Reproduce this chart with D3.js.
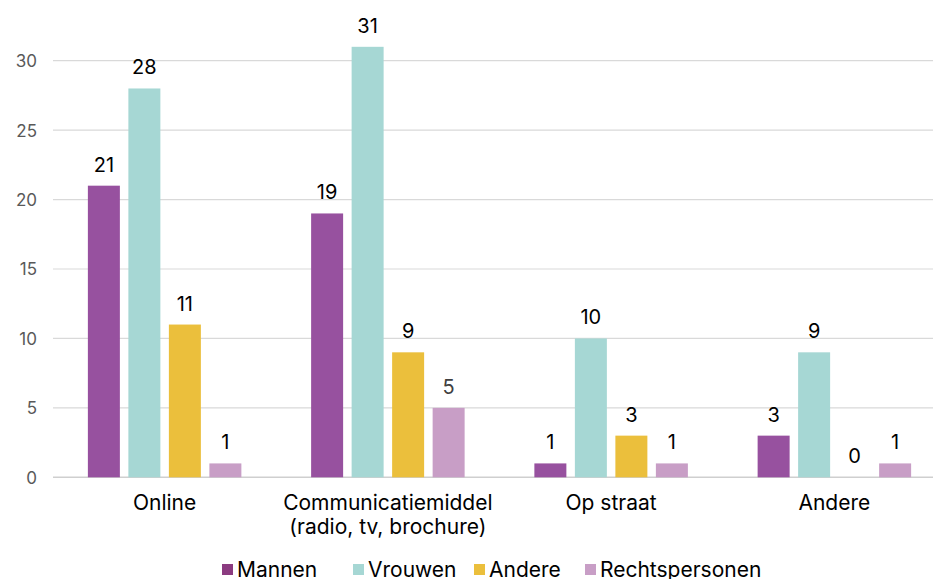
<!DOCTYPE html>
<html>
<head>
<meta charset="utf-8">
<script src="https://cdn.jsdelivr.net/npm/d3@7"></script>
<style>
  body { margin: 0; background: #fff; }
  svg text { font-family: Inter, "Open Sans", sans-serif; }
</style>
</head>
<body>
<svg id="chart" width="933" height="579"></svg>
<script>
// data
var categories = ["Online", "Communicatiemiddel (radio, tv, brochure)", "Op straat", "Andere"];
var categoryLines = [["Online"], ["Communicatiemiddel", "(radio, tv, brochure)"], ["Op straat"], ["Andere"]];
var seriesNames = ["Mannen", "Vrouwen", "Andere", "Rechtspersonen"];
var mannen = [21, 19, 1, 3];
var vrouwen = [28, 31, 10, 9];
var andere = [11, 9, 3, 0];
var rechtspersonen = [1, 5, 1, 1];
var yTicks = [0, 5, 10, 15, 20, 25, 30];
var colors = ["#97519f", "#a6d7d4", "#ebbf3c", "#c89ec6"];

(function() {
  var seriesValues = [mannen, vrouwen, andere, rechtspersonen];

  var svg = d3.select("#chart");
  var mLeft = 53, mRight = 946, mTop = 60.7, mBottom = 477.3;

  var y = d3.scaleLinear().domain([0, 30]).range([mBottom, mTop]);
  var x0 = d3.scaleBand().domain(categories).range([mLeft, mRight]).padding(0);
  var groupW = 153.5;
  var x1 = d3.scaleBand().domain(seriesNames).range([0, groupW]).paddingInner(0.21).paddingOuter(0);
  var groupOff = (x0.bandwidth() - groupW) / 2;

  // gridlines
  svg.append("g").selectAll("line")
    .data(yTicks)
    .join("line")
    .attr("x1", mLeft).attr("x2", mRight)
    .attr("y1", function(d) { return y(d); })
    .attr("y2", function(d) { return y(d); })
    .attr("stroke", function(d) { return d === 0 ? "#cfcfcf" : "#d9d9d9"; })
    .attr("stroke-width", function(d) { return d === 0 ? 1.6 : 1.2; });

  // y axis labels
  var yAxis = d3.axisLeft(y).tickValues(yTicks).tickSize(0).tickPadding(0);
  var yg = svg.append("g").attr("transform", "translate(37,0)").call(yAxis);
  yg.select(".domain").remove();
  yg.selectAll("text")
    .attr("fill", "#595959")
    .style("font-size", "17px")
    .style("font-family", "Inter, sans-serif")
    .attr("dy", "0.35em");

  // bars
  var rows = [];
  categories.forEach(function(c, i) {
    seriesNames.forEach(function(s, j) {
      rows.push({ cat: c, series: s, value: seriesValues[j][i], color: colors[j] });
    });
  });

  function barX(d) { return x0(d.cat) + groupOff + x1(d.series); }

  svg.append("g").selectAll("rect")
    .data(rows)
    .join("rect")
    .attr("x", barX)
    .attr("y", function(d) { return y(d.value); })
    .attr("width", x1.bandwidth())
    .attr("height", function(d) { return y(0) - y(d.value); })
    .attr("fill", function(d) { return d.color; });

  // value labels
  svg.append("g").selectAll("text")
    .data(rows)
    .join("text")
    .attr("x", function(d) { return barX(d) + x1.bandwidth() / 2; })
    .attr("y", function(d) { return y(d.value) - 14; })
    .attr("text-anchor", "middle")
    .style("font-size", "20px")
    .attr("fill", function(d) { return d.series === "Rechtspersonen" && d.value === 5 ? "#404040" : "#000"; })
    .text(function(d) { return d.value; });

  // category labels
  var cg = svg.append("g").selectAll("text")
    .data(categories)
    .join("text")
    .attr("x", function(d) { return x0(d) + x0.bandwidth() / 2; })
    .attr("y", 510)
    .attr("text-anchor", "middle")
    .style("font-size", "21px")
    .attr("fill", "#000");
  cg.selectAll("tspan")
    .data(function(d, i) { return categoryLines[i]; })
    .join("tspan")
    .attr("x", function() { return d3.select(this.parentNode).attr("x"); })
    .attr("dy", function(d, i) { return i === 0 ? 0 : 24; })
    .text(function(d) { return d; });

  // legend
  var legendX = [222, 353, 474, 585];
  var lg = svg.append("g").selectAll("g")
    .data(seriesNames)
    .join("g")
    .attr("transform", function(d, i) { return "translate(" + legendX[i] + ",0)"; });
  lg.append("rect")
    .attr("x", 0).attr("y", 564)
    .attr("width", 11).attr("height", 11)
    .attr("fill", function(d, i) { return i === 0 ? "#8b3b80" : colors[i]; });
  lg.append("text")
    .attr("x", 15).attr("y", 577)
    .style("font-size", "21px")
    .attr("fill", "#000")
    .text(function(d) { return d; });
})();
</script>
</body>
</html>
